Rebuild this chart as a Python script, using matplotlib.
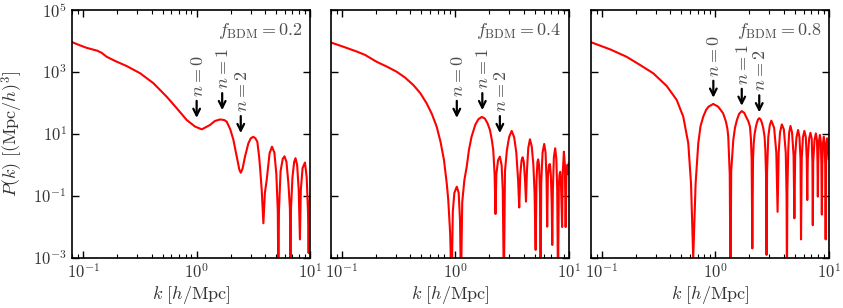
import numpy as np
import matplotlib
matplotlib.use("Agg")
import matplotlib.pyplot as plt
from matplotlib.ticker import LogLocator, FuncFormatter, NullLocator, FixedLocator

plt.rcParams['mathtext.fontset'] = 'cm'
plt.rcParams['font.family'] = ['DejaVu Serif']

# ---------------- data (k in h/Mpc, log10 P(k)) ----------------
k_02 = [0.080, 0.095, 0.107, 0.120, 0.132, 0.145, 0.161, 0.19, 0.242, 0.317, 0.415, 0.545,
        0.668, 0.818, 0.968, 1.11, 1.31, 1.45, 1.61, 1.75, 1.84, 1.98, 2.11, 2.29, 2.38,
        2.45, 2.54, 2.67, 2.86, 3.0, 3.16, 3.30, 3.43, 3.55, 3.62, 3.75, 3.88, 4.0, 4.15,
        4.40, 4.62, 4.85, 5.05, 5.20, 5.26, 5.32, 5.5, 5.75, 5.96, 6.2, 6.45, 6.65, 6.72,
        6.80, 7.0, 7.25, 7.45, 7.70, 7.95, 8.15, 8.3, 8.6, 9.03, 9.35, 9.6, 9.73, 9.85, 10.0]
logP_02 = [3.96, 3.85, 3.78, 3.73, 3.69, 3.62, 3.49, 3.36, 3.19, 2.96, 2.64, 2.20,
           1.83, 1.45, 1.24, 1.15, 1.29, 1.42, 1.47, 1.45, 1.40, 1.15, 0.81, 0.16, -0.15,
           -0.25, -0.12, 0.27, 0.70, 0.86, 0.91, 0.86, 0.75, 0.3, -0.05, -0.8, -1.88, -0.9, -0.48,
           0.38, 0.59, 0.4, -0.3, -1.5, -4.0, -1.5, -0.2, 0.2, 0.28, 0.1, -0.6, -1.4, -3.0,
           -1.4, -0.4, 0.1, 0.22, 0.0, -0.8, -2.4, -0.8, -0.1, 0.08, -0.4, -1.5, -2.84, -1.5, -1.0]

k_04 = [0.080, 0.100, 0.135, 0.160, 0.202, 0.250, 0.303, 0.360, 0.426, 0.490, 0.558, 0.620,
        0.684, 0.740, 0.794, 0.840, 0.866, 0.90, 0.927, 0.95, 0.98, 1.03, 1.07, 1.10, 1.12,
        1.15, 1.20, 1.26, 1.32, 1.39, 1.50, 1.60, 1.71, 1.82, 1.92, 2.02, 2.10, 2.16, 2.22,
        2.26, 2.30, 2.38, 2.47, 2.56, 2.62, 2.68, 2.74, 2.85, 2.98, 3.14, 3.30, 3.45, 3.58,
        3.66, 3.74, 3.84, 3.92, 4.02, 4.12, 4.20, 4.28, 4.40, 4.55, 4.72, 4.88, 5.0, 5.11,
        5.20, 5.30, 5.38, 5.48, 5.58, 5.65, 5.72, 5.88, 6.08, 6.25, 6.38, 6.46, 6.55, 6.70,
        6.83, 6.95, 7.08, 7.16, 7.25, 7.40, 7.60, 7.78, 7.92, 8.05, 8.18, 8.30, 8.42, 8.55,
        8.75, 8.85, 9.07, 9.25, 9.40, 9.55, 9.70, 9.85, 10.0]
logP_04 = [3.95, 3.83, 3.66, 3.55, 3.33, 3.17, 3.01, 2.82, 2.58, 2.32, 1.99, 1.65,
           1.24, 0.75, 0.16, -0.6, -1.13, -2.2, -4.0, -1.5, -0.9, -0.70, -0.9, -1.8, -4.0,
           -1.2, -0.5, -0.05, 0.5, 0.91, 1.30, 1.48, 1.55, 1.50, 1.35, 1.13, 0.8, 0.48, -0.3,
           -1.58, -0.3, 0.15, 0.27, 0.0, -0.8, -4.0, -0.2, 0.48, 0.90, 1.10, 0.90, 0.40, -0.5,
           -1.37, -0.3, 0.15, 0.25, 0.1, -0.5, -1.18, -0.2, 0.55, 0.83, 0.6, 0.0, -0.9, -2.74,
           -0.5, 0.1, 0.18, 0.0, -0.9, -4.0, -0.6, 0.4, 0.68, 0.4, -0.5, -1.99, -0.4, 0.0,
           0.03, -0.3, -1.2, -2.58, -0.8, 0.25, 0.54, 0.2, -0.8, -4.0, -0.7, -0.3, -0.22, -0.6,
           -2.0, -0.3, 0.43, 0.0, -2.0, -0.2, 0.0, -0.3, 0.05]

k_08 = [0.080, 0.118, 0.165, 0.216, 0.283, 0.372, 0.456, 0.521, 0.577, 0.61, 0.638, 0.67,
        0.707, 0.74, 0.782, 0.83, 0.87, 0.958, 1.06, 1.17, 1.24, 1.28, 1.30, 1.34, 1.36,
        1.38, 1.44, 1.49, 1.55, 1.62, 1.71, 1.80, 1.87, 1.95, 2.02, 2.06, 2.09, 2.12,
        2.15, 2.18, 2.22, 2.27, 2.32, 2.38, 2.44, 2.51, 2.58, 2.65, 2.72, 2.76, 2.80, 2.83,
        2.86, 2.93, 3.02, 3.12, 3.30, 3.45, 3.54, 3.62, 3.72, 3.86, 4.02, 4.18, 4.25, 4.28,
        4.32, 4.40, 4.48, 4.60, 4.75, 4.90, 4.98, 5.06, 5.20, 5.37, 5.52, 5.64, 5.70, 5.78,
        5.93, 6.10, 6.28, 6.40, 6.47, 6.54, 6.72, 6.90, 7.08, 7.18, 7.24, 7.30, 7.50, 7.70,
        7.88, 7.96, 8.02, 8.08, 8.20, 8.36, 8.52, 8.62, 8.70, 8.78, 8.90, 9.05, 9.22, 9.32,
        9.40, 9.48, 9.58, 9.70, 9.85, 10.0]
logP_08 = [3.96, 3.73, 3.49, 3.23, 2.96, 2.55, 2.10, 1.56, 0.70, -0.59, -3.0, -0.59,
           0.70, 1.25, 1.56, 1.78, 1.88, 1.97, 1.88, 1.67, 1.40, 1.15, 0.91, -0.3, -4.0,
           -0.2, 0.81, 1.2, 1.45, 1.65, 1.74, 1.68, 1.55, 1.42, 1.24, 0.85, 0.2, -2.69,
           0.2, 0.7, 1.0, 1.2, 1.35, 1.47, 1.51, 1.47, 1.35, 1.18, 0.9, 0.5, -0.3, -2.9,
           -0.2, 0.9, 1.28, 1.43, 1.2, 0.4, -1.51, 0.4, 1.05, 1.31, 1.15, 0.4, -1.0, -4.0,
           -0.8, 0.5, 1.05, 1.26, 1.05, 0.3, -1.72, 0.3, 0.9, 1.13, 0.9, 0.2, -2.4, 0.2,
           0.9, 1.10, 0.9, 0.2, -1.13, 0.2, 0.85, 1.04, 0.85, 0.1, -1.94, 0.1, 0.8, 1.02,
           0.8, 0.1, -1.02, 0.1, 0.75, 0.97, 0.75, 0.0, -1.6, 0.0, 0.7, 0.91, 0.7, 0.0,
           -2.4, 0.0, 0.65, 0.86, 0.65, 0.2]

f_values = ["0.2", "0.4", "0.8"]
arrow_labels = ["n=0", "n=1", "n=2"]
arrow_k = [[1.0, 1.68, 2.45], [1.03, 1.73, 2.47], [0.96, 1.71, 2.44]]
arrow_logP = [[1.52, 1.77, 1.03], [1.52, 1.77, 1.03], [2.17, 1.91, 1.70]]
y_ticks = [1e-3, 1e-1, 1e1, 1e3, 1e5]

series_k = [k_02, k_04, k_08]
series_logP = [logP_02, logP_04, logP_08]

# ---------------- figure ----------------
W, H = 843, 308
fig = plt.figure(figsize=(W / 100, H / 100), dpi=100)
lefts = [72.3, 331.0, 591.0]
text_col = '0.2'

def fmt(v, pos):
    e = int(round(np.log10(v)))
    return r"$10^{%d}$" % e

for i in range(3):
    ax = fig.add_axes([lefts[i] / W, 50 / H, 237.7 / W, 248 / H])
    kk = np.array(series_k[i])
    pp = 10.0 ** np.array(series_logP[i])
    ax.plot(kk, pp, color='red', lw=1.5, solid_joinstyle='round')
    ax.set_xscale('log')
    ax.set_yscale('log')
    ax.set_xlim(0.08, 10)
    ax.set_ylim(1e-3, 1e5)
    ax.yaxis.set_major_locator(FixedLocator(y_ticks))
    ax.yaxis.set_minor_locator(NullLocator())
    ax.yaxis.set_major_formatter(FuncFormatter(fmt))
    ax.xaxis.set_major_formatter(FuncFormatter(fmt))
    ax.xaxis.set_minor_locator(LogLocator(base=10.0, subs=np.arange(2, 10) * 1.0, numticks=20))
    ax.tick_params(which='both', direction='in', top=True, right=True, colors='black',
                   labelcolor=text_col, labelsize=12)
    ax.tick_params(which='major', length=5, width=1.0, pad=4)
    ax.tick_params(which='minor', length=3, width=0.8)
    for s in ax.spines.values():
        s.set_linewidth(1.2)
    if i > 0:
        ax.set_yticklabels([])
    else:
        ax.set_ylabel(r"$P(k)\ [(\mathrm{Mpc}/h)^3]$", fontsize=13, color=text_col, labelpad=6)
    ax.set_xlabel(r"$k\ [h/\mathrm{Mpc}]$", fontsize=13, color=text_col, labelpad=1)
    ax.text(0.97, 0.915, r"$f_{\rm BDM} = %s$" % f_values[i], transform=ax.transAxes,
            ha='right', va='center', fontsize=13, color='0.3')
    for j in range(3):
        kx = arrow_k[i][j]
        py = 10 ** arrow_logP[i][j]
        ax.annotate('', xy=(kx, py), xytext=(0, 17), textcoords='offset pixels',
                    arrowprops=dict(arrowstyle='->', lw=1.6, color='black',
                                    shrinkA=0, shrinkB=0, mutation_scale=12))
        ax.annotate(r"$%s$" % arrow_labels[j].replace("=", " = "), xy=(kx, py),
                    xytext=(1, 21), textcoords='offset pixels', rotation=90,
                    ha='center', va='bottom', fontsize=13, color='0.3')

fig.savefig("out.png", dpi=100)
